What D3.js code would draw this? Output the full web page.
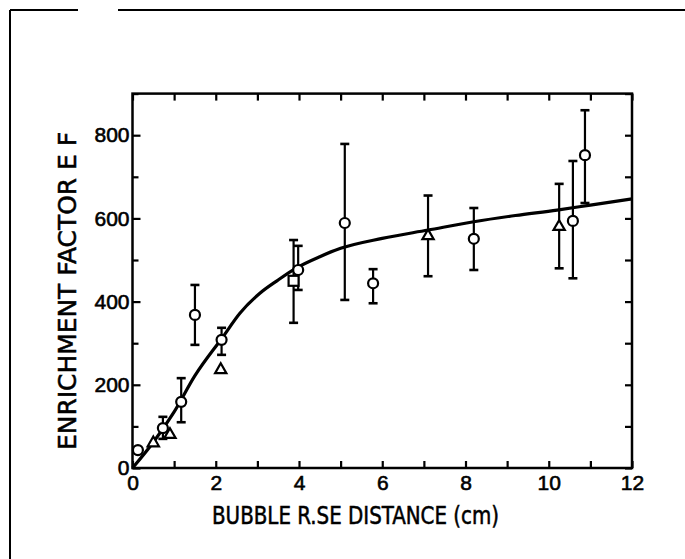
<!DOCTYPE html>
<html>
<head>
<meta charset="utf-8">
<script src="https://cdn.jsdelivr.net/npm/d3@7"></script>
<style>
html,body{margin:0;padding:0;background:#fff;}
svg{display:block;}
</style>
</head>
<body>
<svg id="chart" width="685" height="559"></svg>
<script>
// ---- data ----
const xTicks = [0,1,2,3,4,5,6,7,8,9,10,11,12];
const xTickLabels = ["0","","2","","4","","6","","8","","10","","12"];
const yMajor = [0,200,400,600,800];
const yMajorLabels = ["0","200","400","600","800"];
const yMinor = [100,300,500,700,900];

// circles: x, EF, low, high (null = no bar)
const circleX  = [0.13, 0.73, 1.17, 1.5, 2.14, 3.98, 5.1, 5.78, 8.2, 10.58, 10.87];
const circleY  = [43, 96, 159, 368, 308, 476, 589, 444, 551, 594, 752];
const circleLo = [null, 70, 110, 296, 272, 428, 404, 396, 476, 456, 637];
const circleHi = [null, 123, 216, 440, 337, 534, 779, 478, 625, 738, 860];

const triX  = [0.5, 0.9, 2.12, 7.1, 10.25];
const triY  = [60, 80, 236, 558, 580];
const triLo = [null, null, null, 461, 480];
const triHi = [null, null, null, 655, 683];

const sqX  = [3.87];
const sqY  = [450];
const sqLo = [349];
const sqHi = [548];

// fitted curve samples
const curveX = [0, 0.5, 1.0, 1.5, 2.17, 2.58, 3.06, 3.5, 3.94, 4.5, 5.0, 6.0, 7.1, 8.2, 9.2, 10.2, 11.0, 12.0];
const curveY = [0, 62, 135, 222, 315, 372, 420, 452, 481, 508, 528, 552, 572, 592, 607, 620, 632, 647];

// ---- drawing ----
const svg = d3.select("#chart");
const x = d3.scaleLinear().domain([0,12]).range([132.5,632]);
const y = d3.scaleLinear().domain([0,900]).range([468,93.6]);

// outer frame fragments
svg.append("line").attr("x1",10).attr("y1",10).attr("x2",10).attr("y2",559)
  .attr("stroke","#000").attr("stroke-width",2);
svg.append("line").attr("x1",10).attr("y1",10).attr("x2",78).attr("y2",10)
  .attr("stroke","#000").attr("stroke-width",2);
svg.append("line").attr("x1",118).attr("y1",10).attr("x2",685).attr("y2",10)
  .attr("stroke","#000").attr("stroke-width",2);

const font = "'Liberation Sans', Arial, sans-serif";

function styleAxis(g){
  g.select(".domain").remove();
  g.selectAll(".tick line").attr("stroke","#000").attr("stroke-width",2.2);
  g.selectAll(".tick text").attr("font-family",font).attr("font-size",21).attr("fill","#000")
    .attr("stroke","#000").attr("stroke-width",0.6);
}

// left major
svg.append("g").attr("transform",`translate(${x(0)},0)`)
  .call(d3.axisLeft(y).tickValues(yMajor).tickSizeInner(-8).tickSizeOuter(0).tickPadding(3)
    .tickFormat((d,i)=>yMajorLabels[i]))
  .call(styleAxis);
// left minor
svg.append("g").attr("transform",`translate(${x(0)},0)`)
  .call(d3.axisLeft(y).tickValues(yMinor).tickSizeInner(-6).tickSizeOuter(0).tickFormat(""))
  .call(styleAxis);
// right
svg.append("g").attr("transform",`translate(${x(12)},0)`)
  .call(d3.axisRight(y).tickValues(yMajor.concat(yMinor)).tickSizeInner(-7).tickSizeOuter(0).tickFormat(""))
  .call(styleAxis);
// bottom
svg.append("g").attr("transform",`translate(0,${y(0)})`)
  .call(d3.axisBottom(x).tickValues(xTicks).tickSizeInner(-7).tickSizeOuter(0).tickPadding(7)
    .tickFormat((d,i)=>xTickLabels[i]))
  .call(styleAxis);
// top
svg.append("g").attr("transform",`translate(0,${y(900)})`)
  .call(d3.axisTop(x).tickValues(xTicks).tickSizeInner(-7).tickSizeOuter(0).tickFormat(""))
  .call(styleAxis);

// frame of the plot
svg.append("rect").attr("x",x(0)).attr("y",y(900)).attr("width",x(12)-x(0)).attr("height",y(0)-y(900))
  .attr("fill","none").attr("stroke","#000").attr("stroke-width",2.5);

// curve
const line = d3.line().x(d=>x(d[0])).y(d=>y(d[1])).curve(d3.curveMonotoneX);
svg.append("path").datum(curveX.map((v,i)=>[v,curveY[i]]))
  .attr("d",line).attr("fill","none").attr("stroke","#000").attr("stroke-width",3.2);

// error bars
function errBars(xs, los, his, w){
  const data = xs.map((v,i)=>({x:v, lo:los[i], hi:his[i]})).filter(d=>d.lo!==null);
  const g = svg.append("g").attr("stroke","#000").attr("stroke-width",2.2);
  g.selectAll(".v").data(data).join("line")
    .attr("x1",d=>x(d.x)).attr("x2",d=>x(d.x)).attr("y1",d=>y(d.lo)).attr("y2",d=>y(d.hi));
  g.selectAll(".t").data(data).join("line")
    .attr("x1",d=>x(d.x)-w).attr("x2",d=>x(d.x)+w).attr("y1",d=>y(d.hi)).attr("y2",d=>y(d.hi))
    .attr("stroke-width",2.6);
  g.selectAll(".b").data(data).join("line")
    .attr("x1",d=>x(d.x)-w).attr("x2",d=>x(d.x)+w).attr("y1",d=>y(d.lo)).attr("y2",d=>y(d.lo))
    .attr("stroke-width",2.6);
}
errBars(circleX, circleLo, circleHi, 4.5);
errBars(triX, triLo, triHi, 4.5);
errBars(sqX, sqLo, sqHi, 4.5);

// markers
svg.append("g").selectAll("circle").data(circleX.map((v,i)=>[v,circleY[i]])).join("circle")
  .attr("cx",d=>x(d[0])).attr("cy",d=>y(d[1])).attr("r",5)
  .attr("fill","#fff").attr("stroke","#000").attr("stroke-width",2.2);

const tri = d3.symbol().type(d3.symbolTriangle).size(55);
svg.append("g").selectAll("path").data(triX.map((v,i)=>[v,triY[i]])).join("path")
  .attr("d",tri).attr("transform",d=>`translate(${x(d[0])},${y(d[1])})`)
  .attr("fill","#fff").attr("stroke","#000").attr("stroke-width",2.2);

svg.append("g").selectAll("rect").data(sqX.map((v,i)=>[v,sqY[i]])).join("rect")
  .attr("x",d=>x(d[0])-5).attr("y",d=>y(d[1])-5).attr("width",10).attr("height",10)
  .attr("fill","#fff").attr("stroke","#000").attr("stroke-width",2.2);

// titles
svg.append("text").attr("x",212).attr("y",524)
  .attr("font-family","'Liberation Sans Narrow', 'DejaVu Sans Condensed', Arial, sans-serif")
  .attr("font-size",24).attr("textLength",287).attr("lengthAdjust","spacingAndGlyphs")
  .attr("stroke","#000").attr("stroke-width",0.5)
  .text("BUBBLE R.SE DISTANCE (cm)");
svg.append("text").attr("transform","translate(76,450) rotate(-90)")
  .attr("font-family","'Liberation Sans Narrow', 'DejaVu Sans Condensed', Arial, sans-serif")
  .attr("font-size",24).attr("textLength",318).attr("lengthAdjust","spacingAndGlyphs")
  .attr("stroke","#000").attr("stroke-width",0.5)
  .text("ENRICHMENT FACTOR E F");
</script>
</body>
</html>
